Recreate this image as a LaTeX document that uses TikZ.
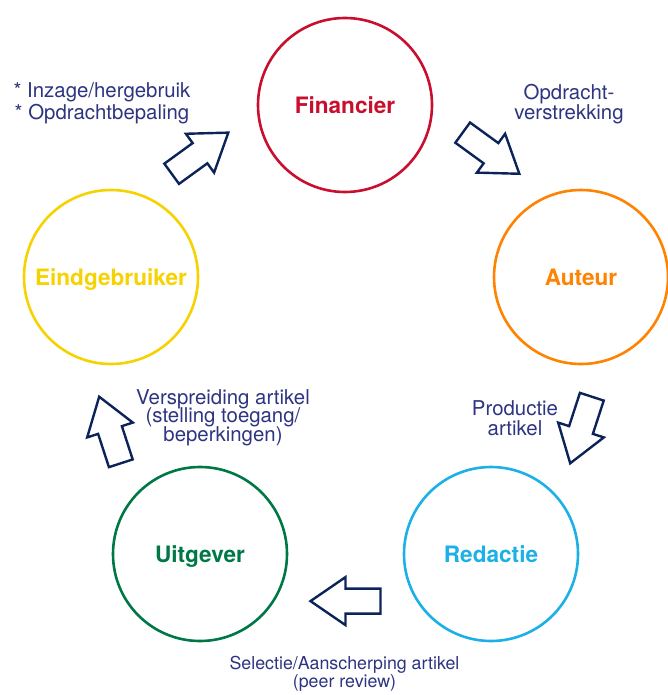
\documentclass[tikz,border=0pt]{standalone}
\usepackage{fontspec}
\setmainfont{TeX Gyre Heros}
\usepackage{tikz}

\definecolor{finred}{RGB}{200,16,46}
\definecolor{autorange}{RGB}{255,130,0}
\definecolor{redblue}{RGB}{28,176,230}
\definecolor{uitgreen}{RGB}{0,120,70}
\definecolor{eindyellow}{RGB}{246,210,0}
\definecolor{arrownavy}{RGB}{12,35,90}
\definecolor{notenavy}{RGB}{45,52,128}

\newcommand{\tightlines}{\lineskiplimit=-20pt\relax}

\tikzset{
  stage/.style={draw, circle, line width=2.6pt, minimum size=174pt, inner sep=0pt, text depth=0pt, font=\fontsize{22.6}{27}\selectfont\bfseries},
  note/.style={align=center, anchor=base, inner sep=0pt, text=notenavy, font={\fontsize{20.4}{#1}\selectfont\tightlines}},
  note/.default=20.4,
  flowarrow/.pic={\draw[line width=2.4pt, draw=arrownavy, line join=miter] (-35,-12.5) -- (0,-12.5) -- (0,-24) -- (35,0) -- (0,24) -- (0,12.5) -- (-35,12.5) -- cycle;}
}

\begin{document}
\begin{tikzpicture}[x=1pt,y=1pt,yscale=-1,xscale=1]
\useasboundingbox (0,0) rectangle (668,695);

%Shape: Circle
\node[stage, draw=finred, text=finred] (fin) at (345,105) {Financier};
%Shape: Circle
\node[stage, draw=autorange, text=autorange] (aut) at (581,277) {Auteur};
%Shape: Circle
\node[stage, draw=redblue, text=redblue] (red) at (491,554) {Redactie};
%Shape: Circle
\node[stage, draw=uitgreen, text=uitgreen] (uit) at (200,554) {Uitgever};
%Shape: Circle
\node[stage, draw=eindyellow, text=eindyellow] (eind) at (111,277) {Eindgebruiker};

%Shape: Right Arrow
\pic[rotate=36] at (200,153.2) {flowarrow};
%Shape: Right Arrow
\pic[rotate=-36] at (491,153.2) {flowarrow};
%Shape: Right Arrow
\pic[rotate=-108] at (581,430) {flowarrow};
%Shape: Right Arrow
\pic[rotate=180] at (345.5,601.1) {flowarrow};
%Shape: Right Arrow
\pic[rotate=108] at (110,430) {flowarrow};

% Text Node
\node[note=21.6] (inzage) at (102,119.3) {* Inzage/hergebruik\\ * Opdrachtbepaling};
% Text Node
\node[note=20] (opdracht) at (569,120) {Opdracht-\\verstrekking};
% Text Node
\node[note=20] (productie) at (515,435) {Productie\\artikel};
% Text Node
\node[note=18.5] (verspreiding) at (223,441) {Verspreiding artikel\\(stelling toegang/\\beperkingen)};
% Text Node
\node[note, font={\fontsize{17.8}{17.7}\selectfont\tightlines}] (selectie) at (344.5,687) {Selectie/Aanscherping artikel\\(peer review)};

\end{tikzpicture}
\end{document}
